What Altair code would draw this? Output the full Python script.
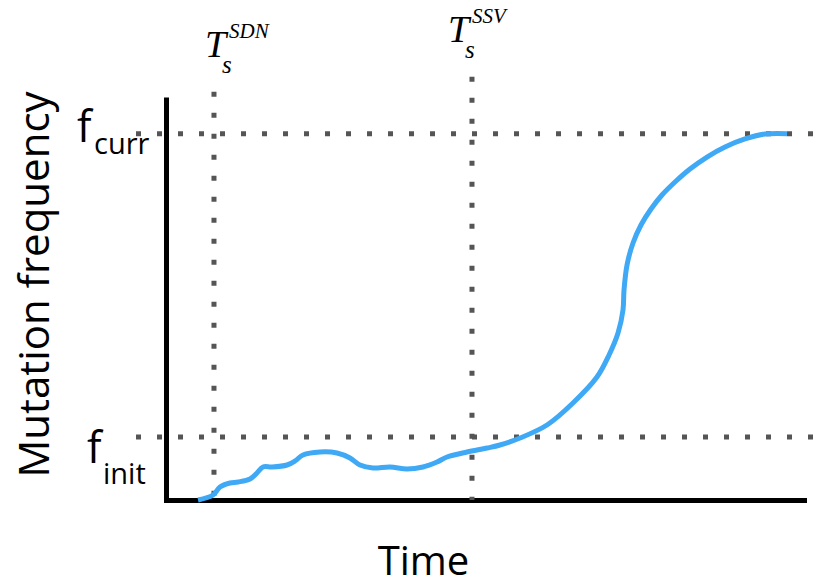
import altair as alt
import pandas as pd

# Blue mutation-frequency trajectory (time units 0-100, frequency units)
time = [5.02, 7.37, 8.46, 10.03, 11.29, 13.17, 14.26, 15.20, 16.61, 18.97, 20.22, 21.47,
        24.14, 26.80, 28.84, 30.41, 32.45, 35.11, 37.77, 40.28, 42.48, 44.04, 47.18,
        50.31, 52.35, 55.49, 59.72, 63.79, 67.55, 69.44, 70.85, 71.63, 71.79, 72.26,
        73.20, 74.45, 76.02, 77.74, 79.78, 82.13, 84.80, 87.62, 90.75, 93.89, 97.34]
freq = [0.0, 0.0136, 0.0355, 0.0464, 0.0491, 0.0573, 0.0737, 0.0901, 0.0901, 0.0955,
        0.1065, 0.1228, 0.131, 0.1283, 0.1146, 0.0955, 0.0873, 0.0901, 0.0846, 0.0901,
        0.1037, 0.1174, 0.131, 0.1419, 0.1501, 0.1692, 0.2047, 0.2648, 0.3357, 0.3958,
        0.4558, 0.5186, 0.5732, 0.6414, 0.7015, 0.7506, 0.7943, 0.8325, 0.8680, 0.9035,
        0.9362, 0.9635, 0.9854, 0.9990, 1.0]

# reference levels / times
f_levels = [1.0, 0.172]          # f_curr, f_init
t_marks = [7.52, 47.96]          # T_s^SDN, T_s^SSV
t_marks_top = [1.114, 1.155]     # top ends of the vertical dotted guides
h_extent = [-4.7, 103.0]         # horizontal dotted guide extent (time units)

xs = alt.Scale(domain=[0, 100], nice=False, zero=False)
ys = alt.Scale(domain=[0, 1.1], nice=False, zero=False)

x_axis = alt.Axis(title="Time", labels=False, ticks=False, grid=False,
                  domainColor="black", domainWidth=5, domainCap="square",
                  titleFont="Open Sans", titleFontSize=40, titleFontWeight="normal",
                  titleColor="black", titleX=257, titleY=74,
                  titleBaseline="alphabetic", titleAlign="center")
y_axis = alt.Axis(title="Mutation frequency", labels=False, ticks=False, grid=False,
                  domainColor="black", domainWidth=5,
                  titleFont="Open Sans", titleFontSize=42, titleFontWeight="normal",
                  titleColor="black", titleAngle=270, titleX=-118, titleY=187,
                  titleBaseline="alphabetic", titleAlign="center")

X = lambda f: alt.X(f, scale=xs, axis=x_axis)
Y = lambda f: alt.Y(f, scale=ys, axis=y_axis)

curve_df = pd.DataFrame({"t": time, "f": freq})
curve = alt.Chart(curve_df).mark_line(
    color="#3FA9F5", strokeWidth=5, interpolate="catmull-rom", strokeCap="butt"
).encode(x=X("t:Q"), y=Y("f:Q"))

dot_style = dict(strokeDash=[5, 16], strokeWidth=5, color="#555555", strokeCap="butt")

hdf = pd.DataFrame({"f": f_levels, "t1": [h_extent[0]] * 2, "t2": [h_extent[1]] * 2})
hrules = alt.Chart(hdf).mark_rule(**dot_style).encode(
    x=X("t1:Q"), x2="t2:Q", y=Y("f:Q"))

vdf = pd.DataFrame({"t": t_marks, "f1": t_marks_top, "f2": [0, 0]})
vrules = alt.Chart(vdf).mark_rule(**dot_style).encode(
    x=X("t:Q"), y=Y("f1:Q"), y2="f2:Q")


def level_label(text, level, dx, dy, size):
    d = pd.DataFrame({"t": [0.0], "f": [level], "txt": [text]})
    return alt.Chart(d).mark_text(
        align="left", baseline="alphabetic", dx=dx, dy=dy, font="Open Sans",
        fontSize=size, color="black"
    ).encode(x=X("t:Q"), y=Y("f:Q"), text="txt:N")


def time_label(text, t, dx, ypix, size):
    d = pd.DataFrame({"t": [t], "txt": [text]})
    return alt.Chart(d).mark_text(
        align="left", baseline="alphabetic", dx=dx, font="Liberation Serif",
        fontStyle="italic", fontSize=size, color="black"
    ).encode(x=X("t:Q"), y=alt.value(ypix), text="txt:N")


labels = [
    level_label("f", f_levels[0], -89, 8.4, 43),
    level_label("curr", f_levels[0], -72, 20.4, 29),
    level_label("f", f_levels[1], -79, 26, 43),
    level_label("init", f_levels[1], -63, 47, 29),
    time_label("T", t_marks[0], -9, -40, 38),
    time_label("SDN", t_marks[0], 15, -59, 21),
    time_label("s", t_marks[0], 8, -24, 25),
    time_label("T", t_marks[1], -24, -55, 38),
    time_label("SSV", t_marks[1], 0, -74, 21),
    time_label("s", t_marks[1], -7, -39, 25),
]

chart = alt.layer(hrules, vrules, curve, *labels).properties(
    width=638, height=403,
    padding={"left": 166, "top": 97, "right": 15, "bottom": 85},
    autosize=alt.AutoSizeParams(type="none"),
).configure_view(stroke=None)

chart.save("out.html", embed_options={"renderer": "svg", "actions": False})
